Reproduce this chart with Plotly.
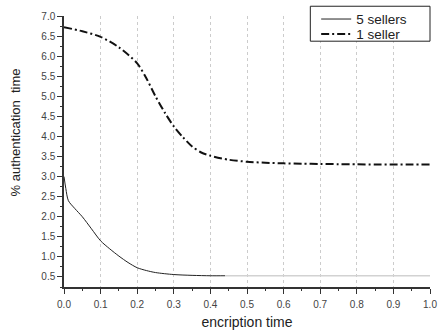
import plotly.graph_objects as go

# Encryption time (fraction) and % authentication time per seller count
x_five = [0.0, 0.005, 0.012, 0.03, 0.05, 0.075, 0.1, 0.125, 0.15, 0.175, 0.2, 0.225, 0.25,
          0.3, 0.35, 0.4, 0.44]
y_five = [3.0, 2.7, 2.4, 2.2, 2.0, 1.7, 1.4, 1.2, 1.02, 0.86, 0.73, 0.66, 0.61,
          0.56, 0.54, 0.53, 0.53]
x_five_tail = [0.44, 0.6, 0.8, 1.0]
y_five_tail = [0.53, 0.53, 0.53, 0.53]

x_one = [0.0, 0.05, 0.1, 0.15, 0.2, 0.225, 0.25, 0.275, 0.3, 0.325, 0.35, 0.375, 0.4,
         0.45, 0.5, 0.55, 0.6, 0.65, 0.7, 0.75, 0.8, 0.85, 0.9, 0.95, 1.0]
y_one = [6.72, 6.62, 6.48, 6.22, 5.82, 5.45, 5.0, 4.6, 4.25, 3.98, 3.75, 3.6, 3.52,
         3.42, 3.37, 3.345, 3.33, 3.32, 3.315, 3.31, 3.305, 3.3, 3.3, 3.3, 3.3]

x_ticks = [0.0, 0.1, 0.2, 0.3, 0.4, 0.5, 0.6, 0.7, 0.8, 0.9, 1.0]
y_ticks = [0.5, 1.0, 1.5, 2.0, 2.5, 3.0, 3.5, 4.0, 4.5, 5.0, 5.5, 6.0, 6.5, 7.0]

fig = go.Figure()
fig.add_trace(go.Scatter(x=x_five, y=y_five, mode="lines", name="5 sellers", legend="legend",
                         line=dict(color="#222222", width=1, shape="spline", smoothing=0.8)))
fig.add_trace(go.Scatter(x=x_five_tail, y=y_five_tail, mode="lines", showlegend=False,
                         line=dict(color="#d2d2d2", width=1.5)))
fig.add_trace(go.Scatter(x=x_one, y=y_one, mode="lines", name="1 seller", legend="legend2",
                         line=dict(color="#111111", width=2, dash="8px,3px,2px,3px",
                                   shape="spline", smoothing=0.8)))

font_family = "Liberation Sans, Arial, sans-serif"
axis_font = dict(family=font_family, size=10, color="#444444")

# y-axis title placed as a rotated label, sitting a little above the axis middle
fig.add_annotation(text="% authentication  time", textangle=-90,
                   xref="paper", yref="y", x=-0.134, y=4.1, xanchor="center",
                   showarrow=False, font=dict(family=font_family, size=13, color="#222222"))

# framed legend box in the upper right corner
fig.add_shape(type="rect", xref="paper", yref="paper", x0=0.673, x1=1.0, y0=0.907, y1=1.036,
              line=dict(color="#222222", width=1), fillcolor="white", layer="above")

legend_row = dict(x=0.689, xanchor="left", yanchor="middle",
                  bgcolor="rgba(0,0,0,0)", borderwidth=0,
                  font=dict(size=13.5, color="#222222"))

fig.update_layout(
    width=441, height=332,
    margin=dict(l=64, r=4, t=15, b=45),
    paper_bgcolor="white", plot_bgcolor="white",
    font=dict(family=font_family, color="#222222"),
    legend=dict(legend_row, y=0.988),
    legend2=dict(legend_row, y=0.933),
    xaxis=dict(range=[0, 1.0], tickvals=x_ticks, ticktext=[f"{v:.1f}" for v in x_ticks],
               tickfont=axis_font, ticks="outside", ticklen=5, tickcolor="#333333",
               ticklabeloverflow="allow", ticklabelstandoff=2,
               showline=True, linecolor="#333333", linewidth=1.5,
               showgrid=True, gridcolor="#cccccc", griddash="dot", gridwidth=1,
               zeroline=False,
               minor=dict(dtick=0.05, tick0=0, ticks="outside", ticklen=2, tickcolor="#333333",
                          showgrid=False),
               title=dict(text="encription time", font=dict(size=14, color="#222222"),
                          standoff=8)),
    yaxis=dict(range=[0.25, 7.0], tickvals=y_ticks, ticktext=[f"{v:.1f}" for v in y_ticks],
               tickfont=axis_font, ticks="outside", ticklen=5, tickcolor="#333333",
               showline=True, linecolor="#333333", linewidth=1.5,
               showgrid=False, zeroline=False,
               minor=dict(dtick=0.25, tick0=0, ticks="outside", ticklen=2, tickcolor="#333333",
                          showgrid=False)),
)

fig.write_html("out.html")
